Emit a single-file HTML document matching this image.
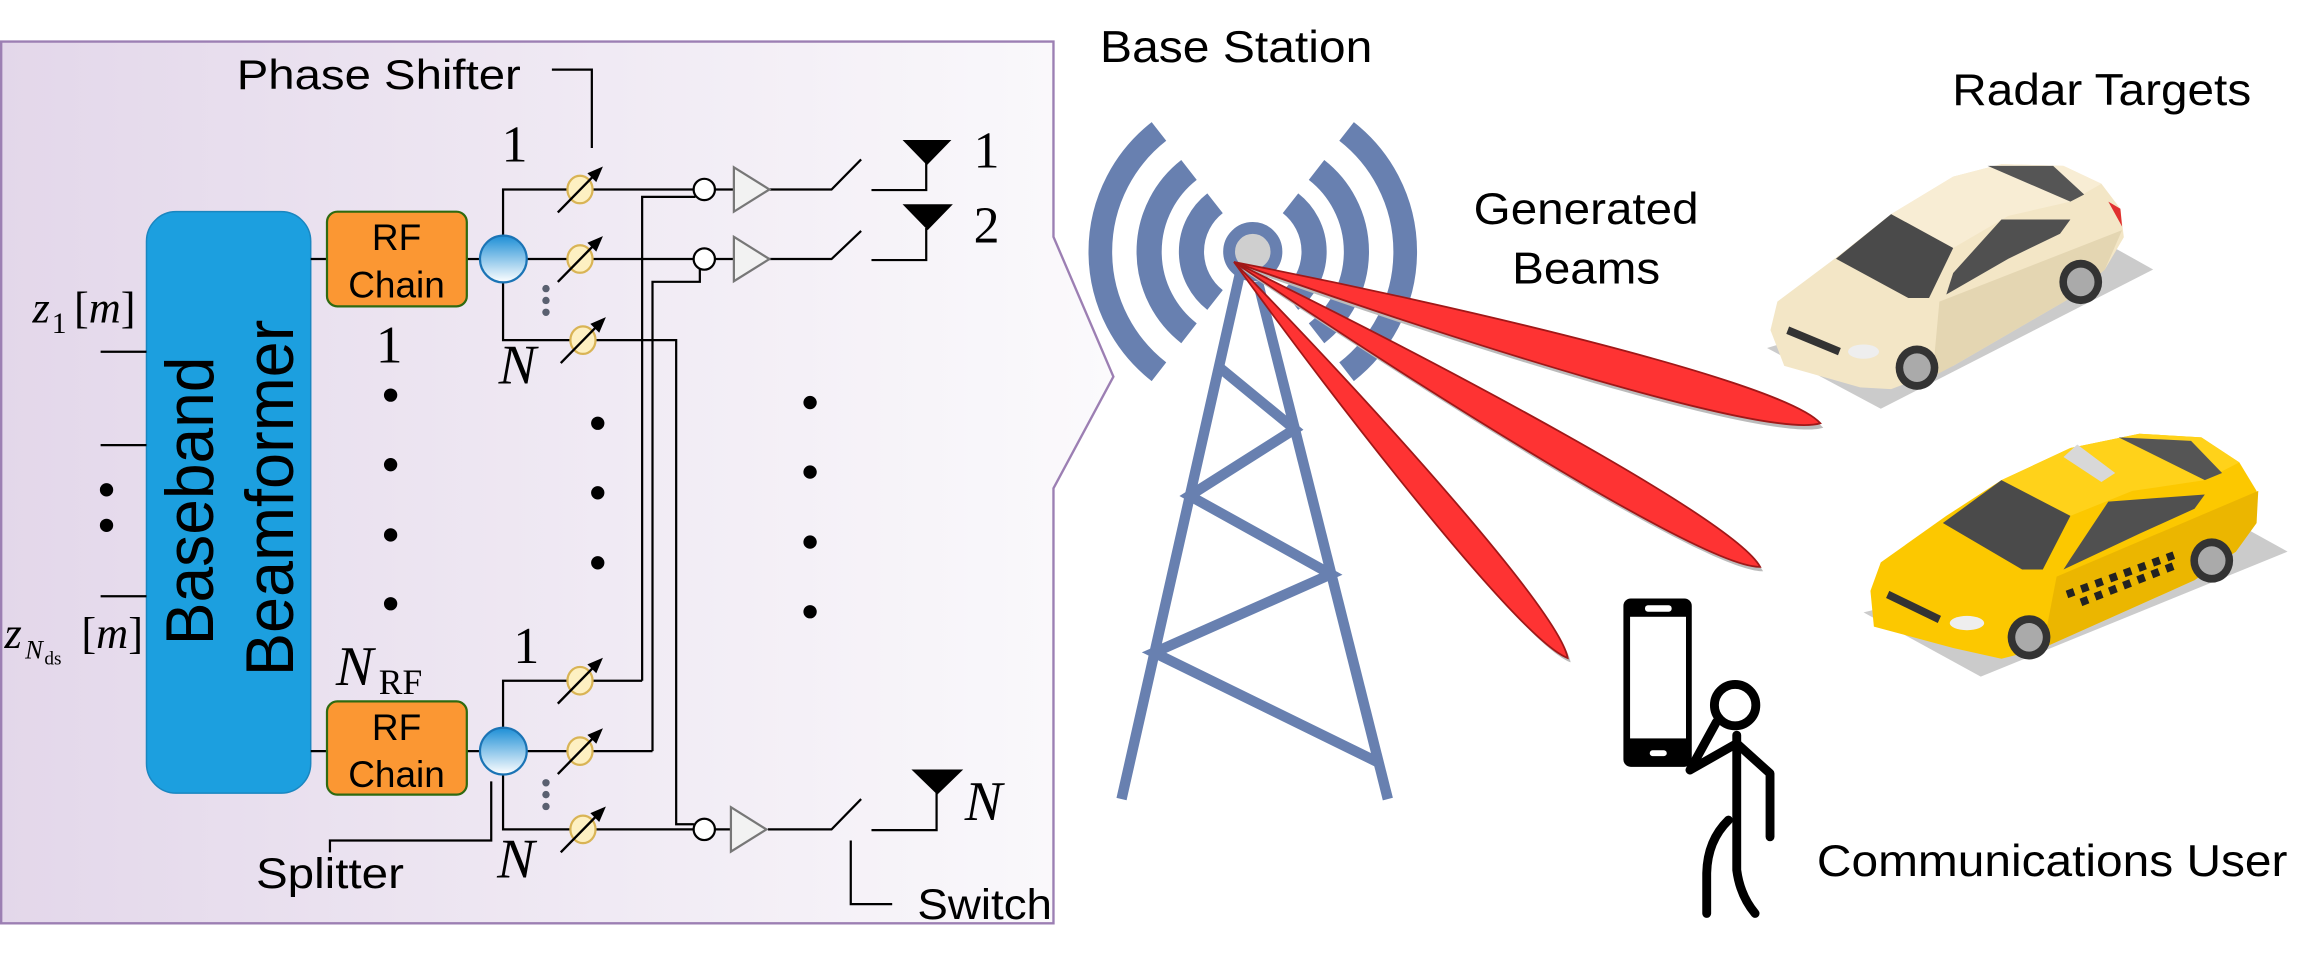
<!DOCTYPE html>
<html><head><meta charset="utf-8"><style>
html,body{margin:0;padding:0;background:#fff;width:2320px;height:956px;overflow:hidden}
svg{display:block}
.s{font-family:"Liberation Sans",sans-serif;fill:#000}
.m{font-family:"Liberation Serif",serif;fill:#000}
</style></head><body>
<svg width="2320" height="956" viewBox="0 0 1568 646" xmlns="http://www.w3.org/2000/svg">
<defs>
<linearGradient id="pg" x1="0" x2="1" y1="0" y2="0"><stop offset="0" stop-color="#e3d7ea"/><stop offset="1" stop-color="#fbfafc"/></linearGradient>
<linearGradient id="sg" x1="0" x2="0" y1="0" y2="1"><stop offset="0" stop-color="#1d8fd6"/><stop offset="1" stop-color="#ffffff"/></linearGradient>
<g id="ps"><ellipse cx="0" cy="0" rx="8.5" ry="9.3" fill="#fdf0c2" stroke="#d9b455" stroke-width="1.5"/><line x1="-15" y1="15.5" x2="11" y2="-11" stroke="#000" stroke-width="1.6"/><path d="M15.5,-15.5 L5,-11 L11,-5 Z" fill="#000"/></g>
<g id="amp"><polygon points="0,-15 24,0 0,15" fill="#f2f2f2" stroke="#777" stroke-width="1.5"/></g>
<path id="b1" d="M0,0 C160,-12 380,-20 411,0 C380,20 160,12 0,0 Z"/>
<path id="b2" d="M0,0 C160,-11 380,-19 411,0 C380,19 160,11 0,0 Z"/>
<path id="b3" d="M0,0 C140,-10 322,-16 350,0 C322,16 140,10 0,0 Z"/>
</defs>

<!-- panel -->
<path d="M0.8,28 H712 V160 L752.5,254.5 L712,330 V624 H0.8 Z" fill="url(#pg)" stroke="#9c7fb3" stroke-width="1.6"/>

<!-- baseband -->
<rect x="99" y="143" width="111" height="393" rx="20" fill="#1c9fdf" stroke="#1a86c0" stroke-width="1"/>
<text class="s" font-size="46" transform="translate(144,436) rotate(-90)" textLength="195" lengthAdjust="spacingAndGlyphs">Baseband</text>
<text class="s" font-size="46" transform="translate(198,457) rotate(-90)" textLength="241" lengthAdjust="spacingAndGlyphs">Beamformer</text>

<!-- inputs -->
<g stroke="#000" stroke-width="1.5">
<line x1="68" y1="237.7" x2="99" y2="237.7"/><line x1="68" y1="300.8" x2="99" y2="300.8"/><line x1="68" y1="402.9" x2="99" y2="402.9"/>
</g>
<circle cx="72" cy="331" r="4.5"/><circle cx="72" cy="355" r="4.5"/>
<text class="m" font-size="30" x="22" y="218" font-style="italic">z</text><text class="m" font-size="20" x="35" y="225">1</text><text class="m" font-size="30" x="50" y="218">[<tspan font-style="italic">m</tspan>]</text>
<text class="m" font-size="30" x="3" y="438" font-style="italic">z</text><text class="m" font-size="18" x="17" y="445" font-style="italic">N</text><text class="m" font-size="13" x="30" y="449">ds</text><text class="m" font-size="30" x="55" y="438">[<tspan font-style="italic">m</tspan>]</text>

<!-- RF chains -->
<g stroke="#000" stroke-width="1.5">
<line x1="210" y1="175" x2="221" y2="175"/><line x1="315" y1="175" x2="325" y2="175"/>
<line x1="210" y1="507.6" x2="221" y2="507.6"/><line x1="315" y1="507.6" x2="325" y2="507.6"/>
</g>
<rect x="221" y="143" width="94.5" height="64" rx="7" fill="#fb9733" stroke="#2f6a10" stroke-width="1.5"/>
<rect x="221" y="474" width="94.5" height="63" rx="7" fill="#fb9733" stroke="#2f6a10" stroke-width="1.5"/>
<g class="s" font-size="25" text-anchor="middle">
<text x="268" y="169">RF</text><text x="268" y="201">Chain</text>
<text x="268" y="500">RF</text><text x="268" y="532">Chain</text>
</g>
<text class="m" font-size="36" x="254" y="245">1</text>
<circle cx="264" cy="267" r="4.5"/><circle cx="264" cy="314" r="4.5"/><circle cx="264" cy="361.5" r="4.5"/><circle cx="264" cy="408" r="4.5"/>
<text class="m" font-size="38" x="227" y="463" font-style="italic">N</text><text class="m" font-size="24" x="256" y="469">RF</text>

<!-- wiring -->
<g fill="none" stroke="#000" stroke-width="1.5">
<path d="M340,159 V128 H469"/><path d="M356,175 H469"/><path d="M340,191 V229.8 H457 V557 H469"/>
<path d="M434,460 V133 H470"/><path d="M441,507.6 V190.4 H473 V182"/>
<path d="M340,492 V460 H434"/><path d="M356,507.6 H441"/><path d="M340,523 V560.5 H469"/>
<path d="M483,128 H496 M520,128 H562 L582,107.7 M589,128.4 H626 V108"/>
<path d="M483,175 H496 M520,175 H562 L582,156 M589,175.7 H626 V154"/>
<path d="M483,560.5 H494 M519,560.5 H562 L582,540 M589,561 H633 V534"/>
<path d="M373,47 H400 V100"/>
<path d="M332,528 V568 H223 V576"/>
<path d="M575,568 V611 H603"/>
</g>
<circle cx="340.2" cy="175" r="15.8" fill="url(#sg)" stroke="#1b74b5" stroke-width="1.5"/>
<circle cx="340.2" cy="507.6" r="15.8" fill="url(#sg)" stroke="#1b74b5" stroke-width="1.5"/>
<use href="#ps" x="392" y="128"/><use href="#ps" x="392" y="175"/><use href="#ps" x="394" y="229.8"/>
<use href="#ps" x="392" y="460"/><use href="#ps" x="392" y="507.6"/><use href="#ps" x="394" y="560.5"/>
<g fill="#5a6070"><circle cx="369" cy="195" r="2.5"/><circle cx="369" cy="203" r="2.5"/><circle cx="369" cy="211" r="2.5"/>
<circle cx="369" cy="529" r="2.5"/><circle cx="369" cy="537" r="2.5"/><circle cx="369" cy="545" r="2.5"/></g>
<g fill="#fff" stroke="#000" stroke-width="1.5"><circle cx="476" cy="128" r="7.2"/><circle cx="476" cy="175" r="7.2"/><circle cx="476" cy="560.5" r="7.2"/></g>
<use href="#amp" x="496" y="128"/><use href="#amp" x="496" y="175"/><use href="#amp" x="494" y="560.5"/>
<polygon points="610,94.6 643,94.6 626.5,111.5"/><polygon points="610,138 644,138 627,155.5"/><polygon points="616,520 651,520 633.5,537"/>
<text class="m" font-size="35" x="658" y="113">1</text><text class="m" font-size="35" x="658" y="164">2</text>
<text class="m" font-size="38" x="652" y="554" font-style="italic">N</text>
<text class="m" font-size="35" x="339" y="109">1</text><text class="m" font-size="38" x="337" y="259" font-style="italic">N</text>
<text class="m" font-size="35" x="347" y="448">1</text><text class="m" font-size="38" x="336" y="593" font-style="italic">N</text>
<circle cx="404" cy="286" r="4.5"/><circle cx="404" cy="333" r="4.5"/><circle cx="404" cy="380.3" r="4.5"/>
<circle cx="547.5" cy="272" r="4.5"/><circle cx="547.5" cy="319" r="4.5"/><circle cx="547.5" cy="366.3" r="4.5"/><circle cx="547.5" cy="413.4" r="4.5"/>

<text class="s" font-size="28" x="160" y="60" textLength="192" lengthAdjust="spacingAndGlyphs">Phase Shifter</text>
<text class="s" font-size="29" x="173" y="600" textLength="100" lengthAdjust="spacingAndGlyphs">Splitter</text>
<text class="s" font-size="29" x="620" y="621" textLength="91" lengthAdjust="spacingAndGlyphs">Switch</text>

<text class="s" font-size="30" x="743.5" y="41.7" textLength="184" lengthAdjust="spacingAndGlyphs">Base Station</text>
<text class="s" font-size="30" x="1319.5" y="71" textLength="202" lengthAdjust="spacingAndGlyphs">Radar Targets</text>
<text class="s" font-size="30" x="996" y="151.4" textLength="152" lengthAdjust="spacingAndGlyphs">Generated</text>
<text class="s" font-size="30" x="1022" y="191.5" textLength="100" lengthAdjust="spacingAndGlyphs">Beams</text>
<text class="s" font-size="30" x="1228" y="592" textLength="318" lengthAdjust="spacingAndGlyphs">Communications User</text>

<!-- tower -->
<g fill="none" stroke="#6880b0">
<g stroke-width="17">
<path d="M821.2,137.3 A41.5,41.5 0 0 0 821.2,202.7"/><path d="M872.2,137.3 A41.5,41.5 0 0 1 872.2,202.7"/>
<path d="M803.6,114.8 A70,70 0 0 0 803.6,225.2"/><path d="M889.8,114.8 A70,70 0 0 1 889.8,225.2"/>
</g>
<g stroke-width="16">
<path d="M783.3,88.8 A103,103 0 0 0 783.3,251.2"/><path d="M910.1,88.8 A103,103 0 0 1 910.1,251.2"/>
</g>
<g stroke-width="7">
<line x1="838" y1="185" x2="758" y2="540"/><line x1="850" y1="190" x2="938" y2="540"/>
<polyline points="823.8,248 875,290 804,335 899.5,388 780,441 931,515"/>
</g>
<circle cx="846.7" cy="170" r="16" fill="#cfcfcf" stroke-width="8"/>
</g>

<!-- beams -->
<g transform="translate(834,177)">
<g fill="#bbb">
<use href="#b1" transform="translate(2,3) rotate(15.38)"/>
<use href="#b2" transform="translate(2,3) rotate(30.09)"/>
<use href="#b3" transform="translate(2,3) rotate(49.88)"/></g>
<g fill="#fe3333" stroke="#a01818" stroke-width="1.2">
<use href="#b3" transform="rotate(49.88)"/>
<use href="#b2" transform="rotate(30.09)"/>
<use href="#b1" transform="rotate(15.38)"/>
</g></g>

<!-- cars -->
<g transform="translate(1189.6,87.9) scale(0.233,0.2414)">
<polygon points="20,610 350,780 1140,390 1010,320" fill="#cbcbcb"/>
<path d="M30,560 L50,480 L230,350 L380,235 L560,130 L700,95 L880,100 L990,150 L1045,220 L1055,300 L1000,390 L900,470 L560,660 L380,725 L290,720 L70,660 Z" fill="#f3e6c6"/>
<polygon points="520,480 1050,280 1000,390 900,470 560,660 500,690" fill="#e4d6b2"/>
<polygon points="380,235 560,130 700,95 880,100 990,150 900,200 720,240 560,330" fill="#f8edd4"/>
<polygon points="660,100 850,100 940,180 900,200" fill="#555"/>
<polygon points="220,360 380,235 560,330 490,470 430,470" fill="#4a4a4a"/>
<polygon points="560,400 700,250 900,250 870,290 720,360 540,460" fill="#505050"/>
<line x1="80" y1="560" x2="230" y2="620" stroke="#333" stroke-width="22"/>
<ellipse cx="300" cy="620" rx="45" ry="20" fill="#eee"/>
<circle cx="455" cy="665" r="62" fill="#333"/><circle cx="455" cy="665" r="40" fill="#aaa"/>
<circle cx="930" cy="425" r="62" fill="#333"/><circle cx="930" cy="425" r="40" fill="#aaa"/>
<path d="M1010,200 L1045,220 L1050,270 Z" fill="#e03030"/>

<polygon points="300,1350 640,1530 1530,1180 1380,1100" fill="#cbcbcb"/>
<path d="M320,1290 L350,1210 L540,1080 L700,980 L900,890 L1100,850 L1280,860 L1390,930 L1440,1010 L1440,1100 L1380,1180 L1260,1260 L820,1450 L700,1480 L560,1450 L330,1390 Z" fill="#fcc800"/>
<polygon points="860,1250 1445,1010 1440,1100 1380,1180 1260,1260 820,1450" fill="#ebb600"/>
<polygon points="700,980 900,890 1100,850 1280,860 1390,930 1290,980 1080,1010 900,1080" fill="#ffd21a"/>
<polygon points="1040,860 1250,870 1340,960 1290,980" fill="#555"/>
<polygon points="530,1100 700,980 900,1080 820,1230 760,1230" fill="#4a4a4a"/>
<polygon points="900,1200 1010,1040 1290,1020 1260,1060 1100,1130 880,1230" fill="#505050"/>
<polygon points="880,915 920,880 1030,960 990,985" fill="#d8d8d8"/>
<line x1="890" y1="1300" x2="1200" y2="1190" stroke="#222" stroke-width="22" stroke-dasharray="22,22"/>
<line x1="910" y1="1330" x2="1200" y2="1220" stroke="#222" stroke-width="22" stroke-dasharray="22,22" stroke-dashoffset="22"/>
<line x1="370" y1="1300" x2="520" y2="1370" stroke="#333" stroke-width="22"/>
<ellipse cx="600" cy="1380" rx="50" ry="20" fill="#eee"/>
<circle cx="780" cy="1420" r="62" fill="#333"/><circle cx="780" cy="1420" r="40" fill="#aaa"/>
<circle cx="1310" cy="1205" r="62" fill="#333"/><circle cx="1310" cy="1205" r="40" fill="#aaa"/>
</g>

<!-- phone & user -->
<rect x="1097.2" y="404.4" width="46.2" height="113.8" rx="5" fill="#000"/>
<rect x="1101.7" y="416.8" width="37.8" height="82.2" fill="#fff"/>
<rect x="1111.8" y="409" width="18" height="4.4" rx="2" fill="#fff"/>
<rect x="1115" y="507" width="11.5" height="4" rx="2" fill="#fff"/>
<g fill="none" stroke="#000" stroke-width="6" stroke-linecap="round" stroke-linejoin="round">
<circle cx="1172.7" cy="476.5" r="14"/>
<path d="M1173.8,496.8 V588 Q1176,605 1186.2,617.3"/>
<path d="M1168.2,554.2 Q1154,568 1153.5,590 V617.3"/>
<path d="M1173.8,502.4 L1196.3,522.7 V565.5"/>
<path d="M1173.8,502.4 L1142.2,520.4 L1160,488"/>
</g>
</svg>
</body></html>
